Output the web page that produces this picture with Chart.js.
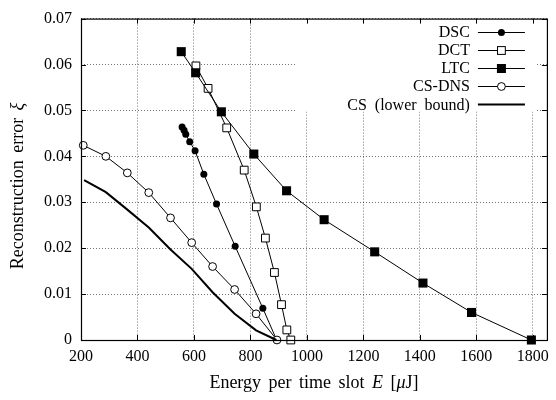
<!DOCTYPE html>
<html>
<head>
<meta charset="utf-8">
<script src="https://cdn.jsdelivr.net/npm/chart.js@4.4.0/dist/chart.umd.min.js"></script>
<style>
  html, body { margin: 0; padding: 0; background: #fff; }
  canvas { display: block; }
</style>
</head>
<body>
<canvas id="chart" width="556" height="400"></canvas>
<script>
// tick values
const xTicks = [200, 400, 600, 800, 1000, 1200, 1400, 1600, 1800];
const yTicks = [0, 0.01, 0.02, 0.03, 0.04, 0.05, 0.06, 0.07];

// energy per time slot E [uJ] / reconstruction error
const dscE   = [558, 565, 571, 585, 604, 635, 680, 746, 844, 893];
const dscErr = [0.0464, 0.0457, 0.0448, 0.0432, 0.0412, 0.0361, 0.0296, 0.0204, 0.0069, 0];

const dctE   = [607, 650, 716, 778, 821, 853, 885, 910, 929, 943];
const dctErr = [0.0597, 0.0548, 0.0462, 0.0370, 0.0290, 0.0222, 0.0147, 0.0077, 0.0022, 0];

const ltcE   = [555, 606, 697, 812, 928, 1061, 1240, 1411, 1583, 1795];
const ltcErr = [0.0628, 0.0582, 0.0497, 0.0405, 0.0325, 0.0262, 0.0192, 0.0124, 0.0060, 0];

const dnsE   = [208, 288, 364, 440, 517, 592, 666, 744, 820, 894];
const dnsErr = [0.0424, 0.0400, 0.0364, 0.0321, 0.0266, 0.0212, 0.0160, 0.0110, 0.0057, 0];

const csE    = [211, 288, 364, 440, 517, 592, 666, 744, 820, 892];
const csErr  = [0.0348, 0.0322, 0.0284, 0.0245, 0.0197, 0.0155, 0.0104, 0.0057, 0.0021, 0];

const FONT = '"Liberation Serif", "Times New Roman", serif';

function pts(xs, ys) {
  return xs.map((x, i) => ({ x: x, y: ys[i] }));
}

// legend entries: label + marker kind
const legendItems = [
  { label: 'DSC', marker: 'dot', lw: 1 },
  { label: 'DCT', marker: 'openSquare', lw: 1 },
  { label: 'LTC', marker: 'square', lw: 1 },
  { label: 'CS-DNS', marker: 'openCircle', lw: 1 },
  { label: 'CS (lower bound)', marker: null, lw: 2 }
];

function drawMarker(ctx, kind, x, y) {
  ctx.save();
  ctx.lineWidth = 1;
  ctx.strokeStyle = '#000';
  if (kind === 'dot') {
    ctx.fillStyle = '#000';
    ctx.beginPath(); ctx.arc(x, y, 3.5, 0, Math.PI * 2); ctx.fill();
  } else if (kind === 'openCircle') {
    ctx.fillStyle = '#fff';
    ctx.beginPath(); ctx.arc(x, y, 3.9, 0, Math.PI * 2); ctx.fill(); ctx.stroke();
  } else if (kind === 'square') {
    ctx.fillStyle = '#000';
    ctx.fillRect(x - 4.5, y - 4.5, 9, 9);
  } else if (kind === 'openSquare') {
    ctx.fillStyle = '#fff';
    ctx.fillRect(x - 3.9, y - 3.9, 7.8, 7.8);
    ctx.strokeRect(x - 3.9, y - 3.9, 7.8, 7.8);
  }
  ctx.restore();
}

// text with some italic parts, centred on (cx, cy)
function drawRich(ctx, parts, cx, cy, size) {
  let total = 0;
  parts.forEach(p => {
    ctx.font = (p.it ? 'italic ' : '') + size + 'px ' + FONT;
    p.w = ctx.measureText(p.t).width;
    total += p.w;
  });
  let x = cx - total / 2;
  ctx.textBaseline = 'middle';
  ctx.textAlign = 'left';
  ctx.fillStyle = '#000';
  parts.forEach(p => {
    ctx.font = (p.it ? 'italic ' : '') + size + 'px ' + FONT;
    ctx.fillText(p.t, x, cy);
    x += p.w;
  });
}

const gnuFrame = {
  id: 'gnuFrame',
  beforeDatasetsDraw(chart) {
    const ctx = chart.ctx, a = chart.chartArea;
    // opaque legend box hides the grid behind it
    ctx.save();
    ctx.fillStyle = '#fff';
    ctx.fillRect(a.right - 250, a.top + 2, 240, 91);
    ctx.restore();
  },
  afterDraw(chart) {
    const ctx = chart.ctx, a = chart.chartArea;
    const xs = chart.scales.x, ys = chart.scales.y;
    ctx.save();
    ctx.strokeStyle = '#000';
    ctx.lineWidth = 1;
    // inward tick marks on all four sides
    ctx.beginPath();
    xTicks.forEach(v => {
      const px = Math.round(xs.getPixelForValue(v)) + 0.5;
      ctx.moveTo(px, a.bottom); ctx.lineTo(px, a.bottom - 5);
      ctx.moveTo(px, a.top); ctx.lineTo(px, a.top + 5);
    });
    yTicks.forEach(v => {
      const py = Math.round(ys.getPixelForValue(v)) + 0.5;
      ctx.moveTo(a.left, py); ctx.lineTo(a.left + 5, py);
      ctx.moveTo(a.right, py); ctx.lineTo(a.right - 5, py);
    });
    ctx.stroke();
    // frame
    ctx.lineWidth = 1.2;
    ctx.strokeRect(a.left + 0.5, a.top + 0.5, a.right - a.left, a.bottom - a.top);

    // legend
    ctx.font = '16px ' + FONT;
    ctx.wordSpacing = '4px';
    ctx.textAlign = 'right';
    ctx.textBaseline = 'middle';
    ctx.fillStyle = '#000';
    legendItems.forEach((it, i) => {
      const y = a.top + 13 + i * 18.2;
      ctx.fillText(it.label, a.right - 77, y + 1);
      ctx.lineWidth = it.lw;
      ctx.beginPath();
      ctx.moveTo(a.right - 69, Math.round(y) + 0.5);
      ctx.lineTo(a.right - 22, Math.round(y) + 0.5);
      ctx.stroke();
      if (it.marker) drawMarker(ctx, it.marker, a.right - 45.5, Math.round(y) + 0.5);
    });

    // axis titles
    ctx.wordSpacing = '3px';
    drawRich(ctx, [{ t: 'Energy per time slot ' }, { t: 'E', it: true }, { t: ' [' }, { t: '\u03bc', it: true }, { t: 'J]' }],
      (a.left + a.right) / 2, 383, 18);
    ctx.translate(18, 186);
    ctx.rotate(-Math.PI / 2);
    drawRich(ctx, [{ t: 'Reconstruction error ' }, { t: '\u03be', it: true }], 0, 0, 18);
    ctx.restore();
  }
};

const common = {
  showLine: true,
  borderColor: '#000',
  borderWidth: 1,
  tension: 0,
  clip: false,
  pointBorderColor: '#000'
};

new Chart(document.getElementById('chart'), {
  type: 'scatter',
  data: {
    datasets: [
      Object.assign({}, common, {
        label: 'DSC', data: pts(dscE, dscErr), order: 5,
        pointStyle: 'circle', pointRadius: 3.5, pointBorderWidth: 0, pointBackgroundColor: '#000'
      }),
      Object.assign({}, common, {
        label: 'DCT', data: pts(dctE, dctErr), order: 4,
        pointStyle: 'rect', pointRadius: 5.5, pointBorderWidth: 1, pointBackgroundColor: '#fff'
      }),
      Object.assign({}, common, {
        label: 'LTC', data: pts(ltcE, ltcErr), order: 3,
        pointStyle: 'rect', pointRadius: 6.4, pointBorderWidth: 0, pointBackgroundColor: '#000'
      }),
      Object.assign({}, common, {
        label: 'CS-DNS', data: pts(dnsE, dnsErr), order: 2,
        pointStyle: 'circle', pointRadius: 3.9, pointBorderWidth: 1, pointBackgroundColor: '#fff'
      }),
      Object.assign({}, common, {
        label: 'CS (lower bound)', data: pts(csE, csErr), order: 1,
        borderWidth: 2, pointRadius: 0
      })
    ]
  },
  options: {
    responsive: false,
    animation: false,
    events: [],
    layout: { padding: { top: 10, right: 4, left: 0, bottom: 0 } },
    plugins: {
      legend: { display: false },
      tooltip: { enabled: false }
    },
    scales: {
      x: {
        type: 'linear',
        min: 200,
        max: 1850,
        afterBuildTicks: s => { s.ticks = xTicks.map(v => ({ value: v })); },
        afterFit: s => { s.height = 60; },
        ticks: { font: { family: FONT, size: 16 }, color: '#000', padding: 7, maxRotation: 0, callback: v => String(v) },
        grid: { color: 'rgba(0,0,0,0.55)', lineWidth: 1, drawTicks: false },
        border: { display: false, dash: [1, 2] }
      },
      y: {
        min: 0,
        max: 0.07,
        afterBuildTicks: s => { s.ticks = yTicks.map(v => ({ value: v })); },
        afterFit: s => { s.width = 81; },
        ticks: { font: { family: FONT, size: 16 }, color: '#000', padding: 9, callback: v => (v === 0 ? '0' : v.toFixed(2)) },
        grid: { color: 'rgba(0,0,0,0.55)', lineWidth: 1, drawTicks: false },
        border: { display: false, dash: [1, 2] }
      }
    }
  },
  plugins: [gnuFrame]
});
</script>
</body>
</html>
